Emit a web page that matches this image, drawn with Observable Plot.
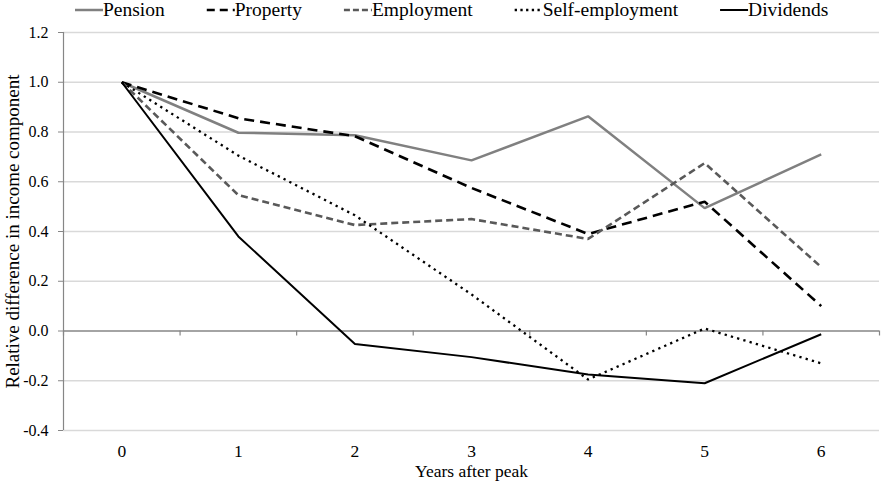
<!DOCTYPE html>
<html>
<head>
<meta charset="utf-8">
<script src="https://cdn.jsdelivr.net/npm/d3@7"></script>
<script src="https://cdn.jsdelivr.net/npm/@observablehq/plot@0.6"></script>
<style>
  body { margin: 0; background: #fff; }
  #wrap { position: relative; width: 881px; height: 486px; }
  #legend { position: absolute; left: 0; top: 0; display: block; }
  #legend text, #chart svg, #chart text {
    font-family: "Liberation Serif", "Times New Roman", serif !important;
  }
  #chart g[aria-label="y-axis tick label"] text { font-size: 16px !important; }
  #chart g[aria-label="x-axis tick label"] text { font-size: 17.5px !important; }
  #chart g[aria-label="y-axis label"] text { font-size: 19px !important; }
  #chart g[aria-label="x-axis label"] text { font-size: 17.5px !important; }
</style>
</head>
<body>
<div id="wrap">
<div id="chart"></div>
<svg id="legend" width="881" height="26"></svg>
</div>
<script>
const years = [0, 1, 2, 3, 4, 5, 6];
const yTicks = [-0.4, -0.2, 0, 0.2, 0.4, 0.6, 0.8, 1.0, 1.2];
const seriesNames = ["Pension", "Property", "Employment", "Self-employment", "Dividends"];
const pension = [1.0, 0.797, 0.787, 0.686, 0.863, 0.494, 0.71];
const property = [1.0, 0.855, 0.783, 0.575, 0.39, 0.52, 0.1];
const employment = [1.0, 0.546, 0.426, 0.45, 0.37, 0.675, 0.257];
const selfEmployment = [1.0, 0.705, 0.465, 0.147, -0.195, 0.01, -0.13];
const dividends = [1.0, 0.38, -0.052, -0.105, -0.175, -0.21, -0.013];

const styles = {
  "Pension": {stroke: "#808080", strokeWidth: 2.5, dash: null, legendDash: null, values: pension},
  "Property": {stroke: "#000000", strokeWidth: 2.6, dash: "10,6", legendDash: "8,5", values: property},
  "Employment": {stroke: "#595959", strokeWidth: 2.6, dash: "7,4", legendDash: "6,3", values: employment},
  "Self-employment": {stroke: "#000000", strokeWidth: 2.3, dash: "2.3,4.2", legendDash: "2.3,3.4", values: selfEmployment},
  "Dividends": {stroke: "#000000", strokeWidth: 2, dash: null, legendDash: null, values: dividends}
};

const boundaries = d3.range(years.length + 1).map(i => years[0] - 0.5 + i);

const lineMarks = seriesNames.map(name => {
  const s = styles[name];
  return Plot.line(years, {
    x: d => d,
    y: (d, i) => s.values[i],
    stroke: s.stroke,
    strokeWidth: s.strokeWidth,
    strokeDasharray: s.dash,
    strokeLinejoin: "miter",
    strokeLinecap: "butt"
  });
});

const chart = Plot.plot({
  width: 881,
  height: 486,
  marginTop: 32,
  marginBottom: 56,
  marginLeft: 63,
  marginRight: 2,
  style: {fontSize: "17px", color: "#000", background: "#fff"},
  x: {type: "linear", domain: [years[0] - 0.5, years[years.length - 1] + 0.5]},
  y: {domain: [yTicks[0], yTicks[yTicks.length - 1]]},
  marks: [
    Plot.ruleY(yTicks.filter(d => d !== 0), {y: d => d, stroke: "#d9d9d9", strokeWidth: 1.3}),
    Plot.ruleX([boundaries[0]], {x: d => d, stroke: "#868686", strokeWidth: 1.2}),
    Plot.ruleY([0], {y: d => d, stroke: "#868686", strokeWidth: 1.3}),
    Plot.ruleX(boundaries, {x: d => d, y1: 0, y2: -0.02, stroke: "#868686", strokeWidth: 1.2}),
    Plot.axisY({
      ticks: yTicks, tickFormat: d => d.toFixed(1), tickSize: 5, tickPadding: 10,
      stroke: "#868686", fill: "#000",
      label: "Relative difference in income component", labelAnchor: "center", labelArrow: "none", labelOffset: 58
    }),
    Plot.axisX({
      ticks: years, tickSize: 0, tickPadding: 14, fill: "#000", tickFormat: d => String(d),
      label: "Years after peak", labelAnchor: "center", labelArrow: "none", labelOffset: 46
    }),
    ...lineMarks
  ]
});
document.getElementById("chart").appendChild(chart);

// Legend (flow layout)
const leg = d3.select("#legend");
let lx = 75;
const sampleW = 28, gap = 42;
seriesNames.forEach(name => {
  const s = styles[name];
  const g = leg.append("g").attr("transform", `translate(${lx},0)`);
  g.append("line").attr("x1", 0).attr("x2", sampleW).attr("y1", 10).attr("y2", 10)
    .attr("stroke", s.stroke).attr("stroke-width", s.strokeWidth)
    .attr("stroke-dasharray", s.legendDash);
  const t = g.append("text").attr("x", sampleW).attr("y", 16).attr("font-size", 19.5).attr("fill", "#000").text(name);
  lx += sampleW + t.node().getComputedTextLength() + gap;
});
</script>
</body>
</html>
